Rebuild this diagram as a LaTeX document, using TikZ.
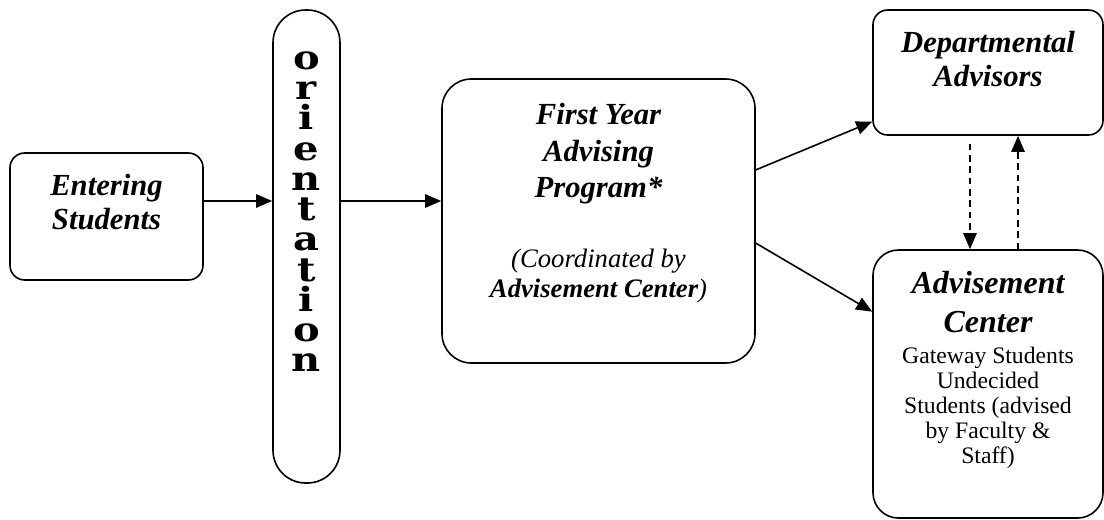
\documentclass[tikz,border=0pt]{standalone}
\usepackage{fontspec}
\setmainfont{Liberation Serif}
\newfontfamily\orifont{DejaVu Serif}[FakeStretch=1.2]
\usetikzlibrary{arrows.meta,positioning,calc}

\tikzset{
  box/.style={draw, line width=1.2pt, rounded corners=#1, inner sep=0pt},
  box/.default=11pt,
  arr/.style={-{Triangle[length=12pt,width=10pt]}, line width=1.2pt},
  dasharr/.style={arr, dash pattern=on 5pt off 3.5pt},
  head/.style={font=\fontsize{23}{25.5}\selectfont\bfseries\itshape, align=center, inner sep=0pt},
  plain/.style={font=\fontsize{17.75}{18.75}\selectfont, align=center, inner sep=0pt},
}

\begin{document}
\begin{tikzpicture}[x=0.75pt,y=-0.75pt]
\useasboundingbox (0,0) rectangle (1104,519);
% boxes
\node[box, minimum width=144.75pt, minimum height=95.25pt] (enter) at (106.5,216.5) {};
\node[box=24.5pt, minimum width=50.25pt, minimum height=354.75pt] (orient) at (306.5,246.5) {};
\node[box=22pt, minimum width=234.75pt, minimum height=213pt] (first) at (598.5,221) {};
\node[box, minimum width=172.5pt, minimum height=93.75pt] (dept) at (988,72.5) {};
\node[box=19pt, minimum width=172.5pt, minimum height=201pt] (advc) at (988,384) {};
% texts
\node[head, below=16.5pt of enter.north] (enterText) {Entering\\Students};
\node[font=\orifont\bfseries\fontsize{25}{22.7}\selectfont, align=center, inner sep=0pt,
  below=31.5pt of orient.north] (orientText) {o\\r\\i\\e\\n\\t\\a\\t\\i\\o\\n};
\node[head, font=\fontsize{23}{27.4}\selectfont\bfseries\itshape, below=18.75pt of first.north] (firstTitle)
  {First Year\\Advising\\Program*};
\node[align=center, inner sep=0pt, font=\fontsize{20}{22.5}\selectfont\itshape, below=33pt of firstTitle]
  (firstNote) {(Coordinated by\\\textbf{Advisement Center})};
\node[head, below=16.5pt of dept.north] (deptText) {Departmental\\Advisors};
\node[head, font=\fontsize{24}{29}\selectfont\bfseries\itshape, below=16.5pt of advc.north] (advcTitle)
  {Advisement\\Center};
\node[plain, below=10.5pt of advcTitle] (advcBody)
  {Gateway Students\\Undecided\\Students (advised\\by Faculty \&\\Staff)};
% connectors
\coordinate (flow) at (0,201);
\draw[arr] (enter.east |- flow) -- (orient.west |- flow);
\draw[arr] (orient.east |- flow) -- (first.west |- flow);
\draw[arr] (first.18) -- (dept.203);
\draw[arr] (first.-8) -- (advc.148);
\draw[dasharr, shorten <=6pt] ([xshift=-13.5pt]dept.south) -- ([xshift=-13.5pt]advc.north);
\draw[dasharr] ([xshift=22.5pt]advc.north) -- ([xshift=22.5pt]dept.south);
\end{tikzpicture}
\end{document}
